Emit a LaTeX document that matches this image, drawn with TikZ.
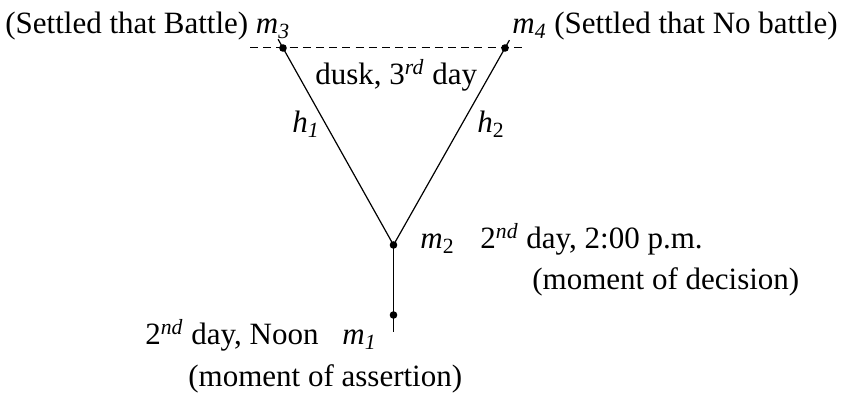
\documentclass[tikz,border=0pt]{standalone}
\usepackage{fontspec}
\setmainfont{Liberation Serif}
\usetikzlibrary{positioning,calc}

\newcommand{\mpt}[2]{\textit{#1}\textsubscript{#2}}
\newcommand{\ordsup}[2]{#1\textsuperscript{\textit{#2}}}

\begin{document}
\begin{tikzpicture}[x=0.5pt,y=-0.5pt,
    every node/.style={font=\fontsize{15.5}{18}\selectfont, inner sep=0pt},
    branch/.style={line width=0.6pt},
    dot/.style={fill=black}]
    \useasboundingbox (0,0) rectangle (853,400);

    % moments on the tree
    \coordinate (m1) at (393.5,315);
    \coordinate (m2) at (393.5,245);
    \coordinate (m3) at (283,48);
    \coordinate (m4) at (505,48);
    \coordinate (dl) at (250,48);
    \coordinate (dr) at (527,48);

    % branches
    \draw[branch, shorten >=-8.5pt] (m2) -- (m1);
    \draw[branch, shorten >=-5pt] (m2) -- (m3);
    \draw[branch, shorten >=-4.5pt] (m2) -- (m4);

    % dusk of the 3rd day
    \draw[line width=0.5pt, dash pattern=on 4pt off 2.6pt] (dl) -- (dr);

    \foreach \p in {m1,m2,m3,m4}
        \fill[dot] (\p) circle (3.8);

    % labels at the top
    \node[anchor=base west] (settle3) at (5,34) {(Settled that Battle) \mpt{m}{\textit{3}}};
    \node[anchor=base west] (settle4) at (512,34) {\mpt{m}{\textit{4}} (Settled that No battle)};
    \node[anchor=base west] (dusk) at (315,85) {dusk, \ordsup{3}{rd} day};

    % histories
    \node[anchor=base west] (h1) at (292,133) {\mpt{h}{\textit{1}}};
    \node[anchor=base west] (h2) at (477,133) {\mpt{h}{2}};

    % decision
    \node[anchor=base west] (lab2) at (420,249) {\mpt{m}{2}};
    \node[anchor=base west] (time2) at (480,249) {\ordsup{2}{nd} day, 2:00 p.m.};
    \node[anchor=base west] (why2) at (532,290) {(moment of decision)};

    % assertion
    \node[anchor=base west] (lab1) at (342,345) {\mpt{m}{\textit{1}}};
    \node[anchor=base west] (time1) at (145,345) {\ordsup{2}{nd} day, Noon};
    \node[anchor=base west] (why1) at (188,387) {(moment of assertion)};
\end{tikzpicture}
\end{document}
